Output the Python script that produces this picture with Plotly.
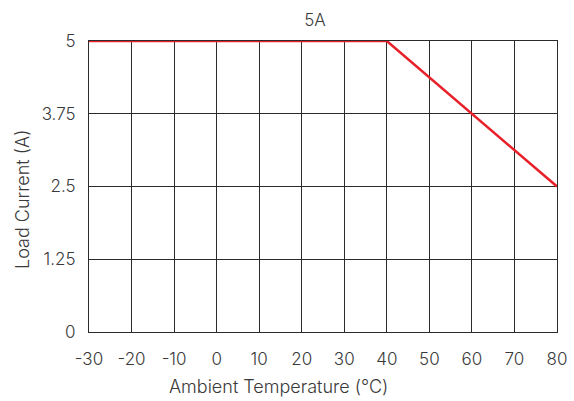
import plotly.graph_objects as go

temps = [-30, 40, 80]
current = [5, 5, 2.5]
x_ticks = [-30, -20, -10, 0, 10, 20, 30, 40, 50, 60, 70, 80]
x_labels = ["-30", "-20", "-10", "0", "10", "20", "30", "40", "50", "60", "70", "80"]
y_ticks = [0, 1.25, 2.5, 3.75, 5]
y_labels = ["0", "1.25", "2.5", "3.75", "5"]
x_title = "Ambient Temperature (℃)"
y_title = "Load Current (A)"

font_family = "Inter, Lato, sans-serif"
txt = "#3a3a3a"
fs = 17
fs_title = 18
fw = 300

fig = go.Figure()
fig.add_trace(go.Scatter(x=temps, y=current, mode="lines",
                         line=dict(color="#e8202a", width=2.5), showlegend=False))

fig.update_layout(
    width=574, height=401,
    margin=dict(l=89, r=17, t=41, b=69),
    paper_bgcolor="white", plot_bgcolor="white",
    font=dict(family=font_family, size=fs, color=txt, weight=fw),
    title=dict(text="5A", x=0.483, xref="paper", xanchor="center", y=1 - 20 / 401, yref="container",
               yanchor="middle", automargin=False, font=dict(size=fs, color=txt, weight=fw)),
)
fig.update_xaxes(range=[-30, 80], tickvals=x_ticks, ticktext=x_labels, automargin=False,
                 showgrid=True, gridcolor="#2b2b2b", gridwidth=1,
                 showline=True, linecolor="#2b2b2b", mirror=True, zeroline=False,
                 ticks="", ticklabelstandoff=12, tickfont=dict(size=fs, weight=fw))
fig.update_yaxes(range=[0, 5], tickvals=y_ticks, ticktext=y_labels, automargin=False,
                 showgrid=True, gridcolor="#2b2b2b", gridwidth=1,
                 showline=True, linecolor="#2b2b2b", mirror=True, zeroline=False,
                 ticks="", ticklabelstandoff=9, tickfont=dict(size=fs, weight=fw))

# axis titles placed as annotations to match the reference offsets
fig.add_annotation(text=x_title, xref="paper", yref="paper",
                   x=(278 - 89) / 468, y=-(386 - 332) / 291,
                   xanchor="center", yanchor="middle", showarrow=False,
                   font=dict(size=fs_title, color=txt, weight=fw))
fig.add_annotation(text=y_title, xref="paper", yref="paper",
                   x=(22 - 89) / 468, y=(332 - 200) / 291, textangle=-90,
                   xanchor="center", yanchor="middle", showarrow=False,
                   font=dict(size=fs_title, color=txt, weight=fw))

fig.write_html("out.html", config={"displayModeBar": False},
               post_script="document.body.style.margin='0';")
